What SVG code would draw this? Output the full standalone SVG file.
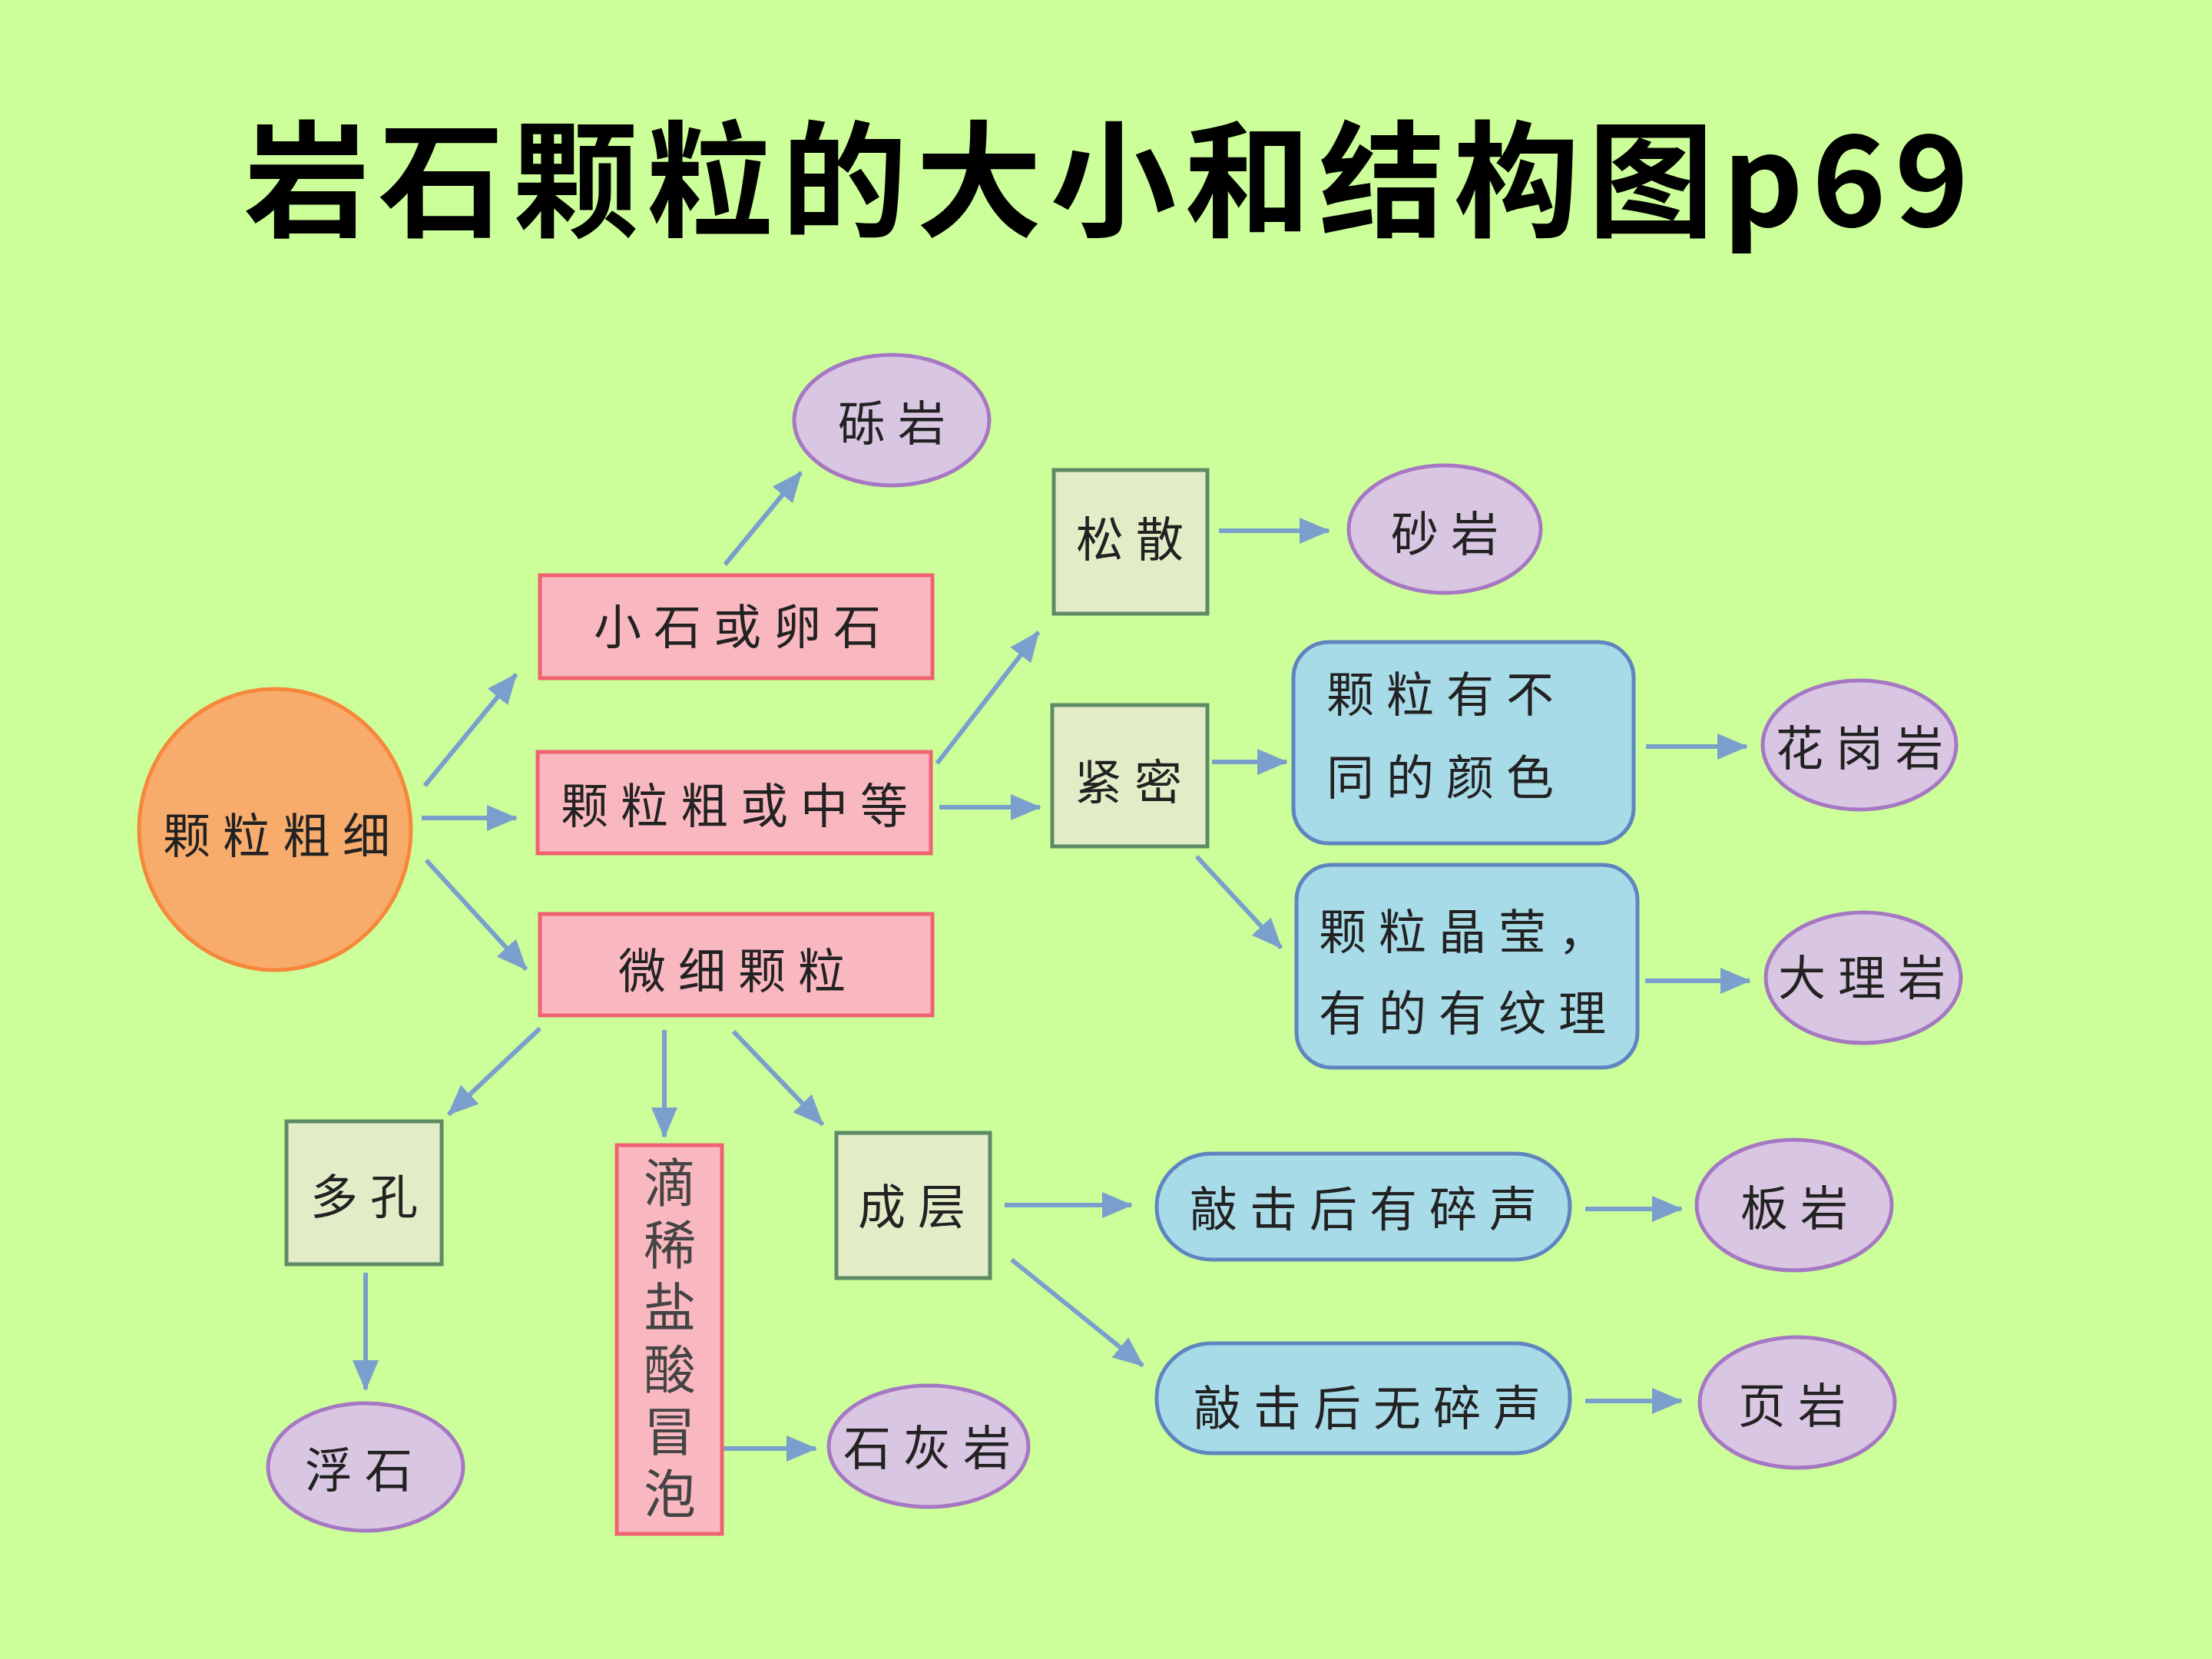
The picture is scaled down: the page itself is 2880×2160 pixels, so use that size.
<svg xmlns="http://www.w3.org/2000/svg" width="2880" height="2160" viewBox="0 0 2880 2160">
<defs>
<style>
.t{font-family:"Noto Sans CJK SC","Noto Sans",sans-serif;font-size:62px;fill:#222;text-anchor:middle;dominant-baseline:central;letter-spacing:16px}
.tl{font-family:"Noto Sans CJK SC","Noto Sans",sans-serif;font-size:62px;fill:#222;dominant-baseline:central;letter-spacing:16px}
.tv{font-family:"Noto Sans CJK SC","Noto Sans",sans-serif;font-size:68px;fill:#444;writing-mode:vertical-rl;letter-spacing:13px}
.pink{fill:#F9B8C0;stroke:#F06272;stroke-width:5}
.lav{fill:#D9C6E2;stroke:#A677C2;stroke-width:5}
.grn{fill:#E2EDC8;stroke:#5E8A66;stroke-width:5}
.blu{fill:#A8DBE8;stroke:#5F85C0;stroke-width:5}
.org{fill:#F8AC6C;stroke:#F7873A;stroke-width:5}
.c line{stroke:#7A9FCC;stroke-width:6;marker-end:url(#ah)}
</style>
<marker id="ah" markerUnits="userSpaceOnUse" markerWidth="40" markerHeight="34" viewBox="0 0 40 34" refX="38" refY="17" orient="auto">
<path d="M0,0 L40,17 L0,34 Z" fill="#7A9FCC"/>
</marker>
</defs>
<rect width="2880" height="2160" fill="#CCFF99"/>
<text x="1446" y="295" font-family="'Noto Sans CJK SC','Liberation Sans',sans-serif" font-size="164" font-weight="bold" fill="#000" text-anchor="middle" letter-spacing="11">岩石颗粒的大小和结构图p69</text>

<g id="connectors" class="c">
<line x1="553" y1="1023" x2="672" y2="878"/>
<line x1="549" y1="1065" x2="672" y2="1065"/>
<line x1="555" y1="1120" x2="685" y2="1262"/>
<line x1="944" y1="735" x2="1043" y2="615"/>
<line x1="1220" y1="994" x2="1352" y2="823"/>
<line x1="1223" y1="1051" x2="1354" y2="1051"/>
<line x1="1587" y1="691" x2="1730" y2="691"/>
<line x1="1578" y1="992" x2="1675" y2="992"/>
<line x1="1558" y1="1115" x2="1668" y2="1234"/>
<line x1="2143" y1="972" x2="2274" y2="972"/>
<line x1="2142" y1="1277" x2="2278" y2="1277"/>
<line x1="703" y1="1339" x2="584" y2="1451"/>
<line x1="865" y1="1341" x2="865" y2="1480"/>
<line x1="955" y1="1343" x2="1071" y2="1464"/>
<line x1="476" y1="1657" x2="476" y2="1809"/>
<line x1="942" y1="1886" x2="1062" y2="1886"/>
<line x1="1308" y1="1569" x2="1473" y2="1569"/>
<line x1="1317" y1="1640" x2="1488" y2="1778"/>
<line x1="2064" y1="1574" x2="2189" y2="1574"/>
<line x1="2064" y1="1824" x2="2189" y2="1824"/>
</g>

<g id="n-kelicuxi"><ellipse class="org" cx="358" cy="1080" rx="177" ry="183"/><text class="t" x="368" y="1084">颗粒粗细</text></g>
<g id="n-xiaoshi"><rect class="pink" x="703" y="749" width="511" height="134"/><text class="t" x="968" y="812">小石或卵石</text></g>
<g id="n-zhongdeng"><rect class="pink" x="700" y="979" width="512" height="132"/><text class="t" x="964" y="1045">颗粒粗或中等</text></g>
<g id="n-weixi"><rect class="pink" x="703" y="1190" width="511" height="132"/><text class="t" x="961" y="1260">微细颗粒</text></g>
<g id="n-liyan"><ellipse class="lav" cx="1161" cy="547" rx="127" ry="85"/><text class="t" x="1169" y="547">砾岩</text></g>
<g id="n-songsan"><rect class="grn" x="1372" y="612" width="200" height="187"/><text class="t" x="1479" y="698">松散</text></g>
<g id="n-jinmi"><rect class="grn" x="1370" y="918" width="202" height="184"/><text class="t" x="1477" y="1014">紧密</text></g>
<g id="n-shayan"><ellipse class="lav" cx="1881" cy="689" rx="125" ry="83"/><text class="t" x="1889" y="691">砂岩</text></g>
<g id="n-yanse"><rect class="blu" x="1684" y="836" width="443" height="262" rx="46"/><text class="tl" x="1727" y="900">颗粒有不</text><text class="tl" x="1727" y="1008">同的颜色</text></g>
<g id="n-huagang"><ellipse class="lav" cx="2421" cy="970" rx="126" ry="84"/><text class="t" x="2429" y="970">花岗岩</text></g>
<g id="n-jingying"><rect class="blu" x="1688" y="1126" width="444" height="264" rx="46"/><text class="tl" x="1717" y="1209">颗粒晶莹，</text><text class="tl" x="1717" y="1315">有的有纹理</text></g>
<g id="n-dali"><ellipse class="lav" cx="2426" cy="1273" rx="127" ry="85"/><text class="t" x="2432" y="1269">大理岩</text></g>
<g id="n-duokong"><rect class="grn" x="373" y="1460" width="202" height="186"/><text class="t" x="482" y="1554">多孔</text></g>
<g id="n-fushi"><ellipse class="lav" cx="476" cy="1910" rx="127" ry="83"/><text class="t" x="475" y="1910">浮石</text></g>
<g id="n-diyansuan"><rect class="pink" x="803" y="1491" width="137" height="506"/>
<text class="tv" x="872" y="1505">滴稀盐酸冒泡</text></g>
<g id="n-shihui"><ellipse class="lav" cx="1209" cy="1883" rx="130" ry="79"/><text class="t" x="1215" y="1881">石灰岩</text></g>
<g id="n-chengceng"><rect class="grn" x="1089" y="1475" width="200" height="189"/><text class="t" x="1195" y="1567">成层</text></g>
<g id="n-yousui"><rect class="blu" x="1506" y="1502" width="538" height="138" rx="72" ry="69"/><text class="t" x="1783" y="1570">敲击后有碎声</text></g>
<g id="n-banyan"><ellipse class="lav" cx="2336" cy="1569" rx="127" ry="85"/><text class="t" x="2344" y="1569">板岩</text></g>
<g id="n-wusui"><rect class="blu" x="1506" y="1749" width="538" height="143" rx="72" ry="70"/><text class="t" x="1788" y="1829">敲击后无碎声</text></g>
<g id="n-yeyan"><ellipse class="lav" cx="2340" cy="1826" rx="127" ry="85"/><text class="t" x="2341" y="1826">页岩</text></g>
</svg>
